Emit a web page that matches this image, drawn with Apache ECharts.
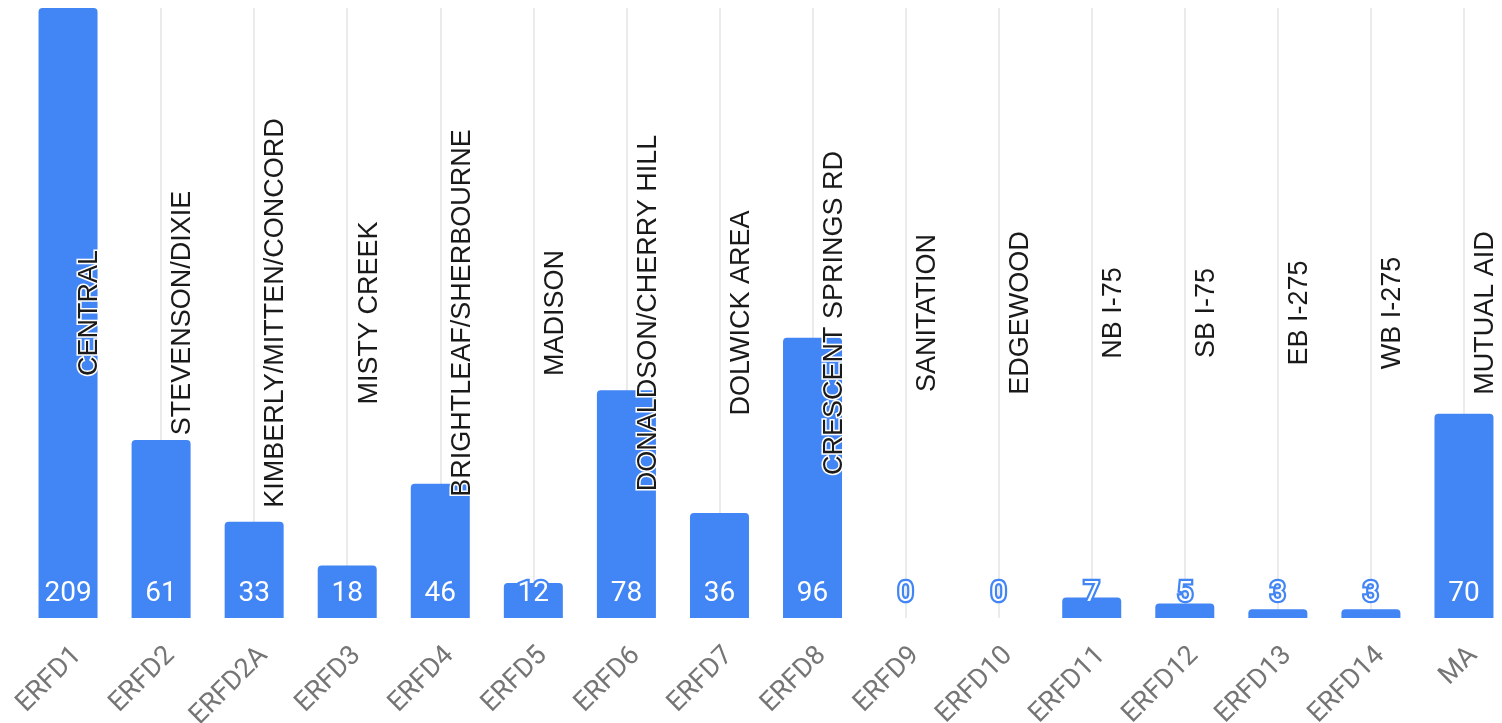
<!DOCTYPE html>
<html>
<head>
<meta charset="utf-8">
<script src="https://cdn.jsdelivr.net/npm/echarts@6/dist/echarts.min.js"></script>
<style>
html,body{margin:0;padding:0;background:#fff;}
#chart{width:1502px;height:723px;}
</style>
</head>
<body>
<div id="chart"></div>
<script>
const categories = ['ERFD1','ERFD2','ERFD2A','ERFD3','ERFD4','ERFD5','ERFD6','ERFD7','ERFD8','ERFD9','ERFD10','ERFD11','ERFD12','ERFD13','ERFD14','MA'];
const areaNames = ['CENTRAL','STEVENSON/DIXIE','KIMBERLY/MITTEN/CONCORD','MISTY CREEK','BRIGHTLEAF/SHERBOURNE','MADISON','DONALDSON/CHERRY HILL','DOLWICK AREA','CRESCENT SPRINGS RD','SANITATION','EDGEWOOD','NB I-75','SB I-75','EB I-275','WB I-275','MUTUAL AID'];
const values = [209, 61, 33, 18, 46, 12, 78, 36, 96, 0, 0, 7, 5, 3, 3, 70];

const BLUE = '#4285F4';
const maxVal = Math.max.apply(null, values);

const chart = echarts.init(document.getElementById('chart'));
chart.setOption({
  animation: false,
  backgroundColor: '#ffffff',
  grid: { left: 21.5, top: 8, width: 1489, height: 610, containLabel: false, outerBoundsMode: 'none' },
  xAxis: {
    type: 'category',
    data: categories,
    boundaryGap: true,
    axisLine: { show: false },
    axisTick: { show: false },
    splitLine: { show: false },
    axisLabel: {
      interval: 0,
      rotate: 45,
      margin: 24,
      verticalAlign: 'top',
      color: '#757575',
      fontFamily: 'Roboto',
      fontSize: 27
    }
  },
  yAxis: {
    type: 'value',
    min: 0,
    max: maxVal,
    show: false
  },
  series: [
    {
      name: 'count',
      type: 'bar',
      data: values,
      barWidth: 59,
      barGap: '-100%',
      z: 3,
      itemStyle: { color: BLUE, borderRadius: [4, 4, 0, 0] },
      label: {
        show: true,
        position: 'insideBottom',
        distance: 10,
        color: '#ffffff',
        fontFamily: 'Roboto',
        fontSize: 28,
        textBorderColor: BLUE,
        textBorderWidth: 4.5
      }
    },
    {
      name: 'area',
      type: 'bar',
      data: areaNames.map(function (n) { return { value: maxVal, name: n }; }),
      barWidth: 59,
      barGap: '-100%',
      z: 4,
      silent: true,
      itemStyle: { color: 'rgba(0,0,0,0)' },
      label: {
        show: true,
        position: ['87%', '50%'],
        rotate: 90,
        align: 'center',
        verticalAlign: 'middle',
        formatter: function (p) { return p.name; },
        color: '#1a1a1a',
        fontFamily: 'Liberation Sans',
        fontSize: 27,
        textBorderColor: '#ffffff',
        textBorderWidth: 3
      },
      markLine: {
        silent: true,
        z: 1,
        symbol: 'none',
        label: { show: false },
        lineStyle: { color: '#e4e4e4', width: 1.5, type: 'solid' },
        data: categories.map(function (c) { return { xAxis: c }; })
      }
    }
  ]
});
</script>
</body>
</html>
